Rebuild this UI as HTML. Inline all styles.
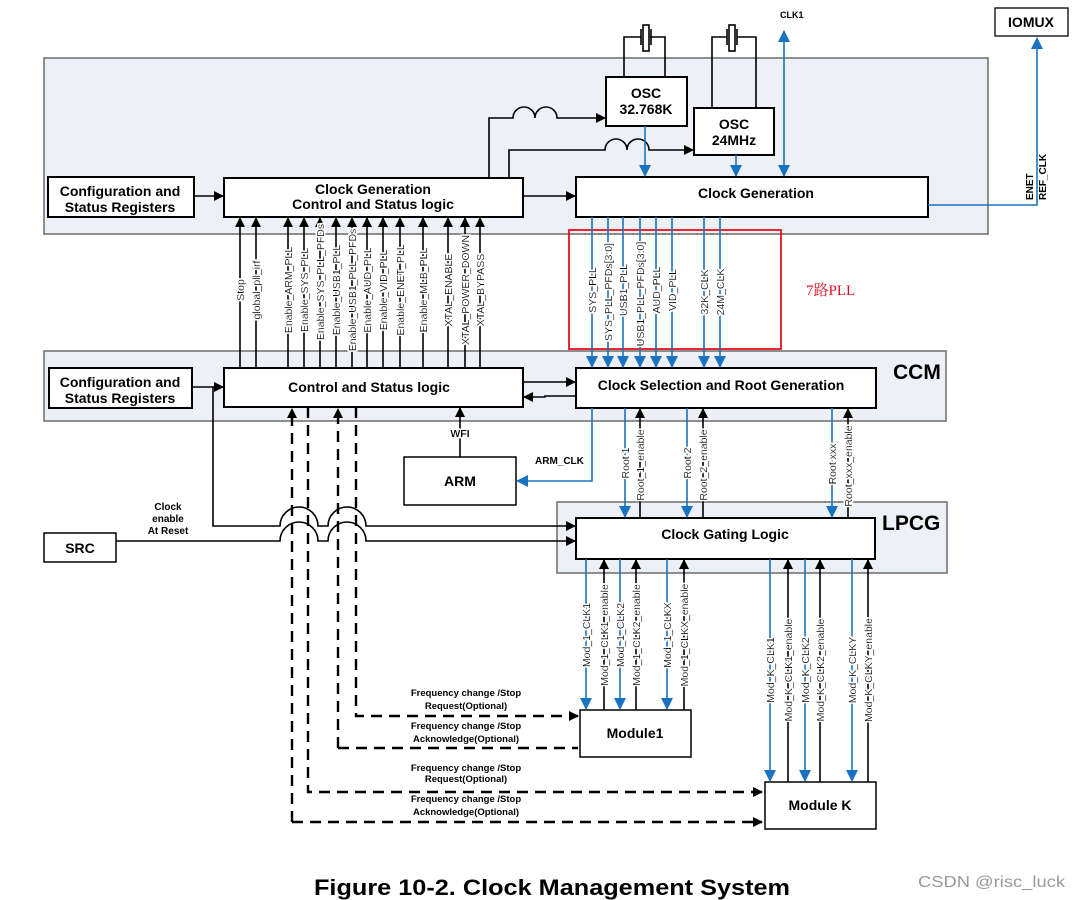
<!DOCTYPE html>
<html><head><meta charset="utf-8"><style>
html,body{margin:0;padding:0;background:#fff}
svg{display:block;font-family:"Liberation Sans",Arial,sans-serif}
.b{font-weight:bold}
.r{font-size:10.5px;filter:url(#halo)}
.rg{font-size:10.5px;filter:url(#halo)}
</style></head><body>
<svg width="1079" height="900" viewBox="0 0 1079 900" xmlns="http://www.w3.org/2000/svg">
<defs>
<filter id="halo" x="-20%" y="-20%" width="140%" height="140%">
<feMorphology in="SourceAlpha" operator="dilate" radius="1.6" result="d"/>
<feFlood flood-color="#fff"/>
<feComposite in2="d" operator="in" result="w"/>
<feMerge><feMergeNode in="w"/><feMergeNode in="SourceGraphic"/></feMerge>
</filter>
<marker id="ak" markerWidth="10" markerHeight="10" refX="9" refY="5" orient="auto" markerUnits="userSpaceOnUse"><path d="M0,0 L10,5 L0,10 z" fill="#000"/></marker>
<marker id="ab" markerWidth="12" markerHeight="12" refX="11" refY="6" orient="auto" markerUnits="userSpaceOnUse"><path d="M0,0 L12,6 L0,12 z" fill="#1a73c0"/></marker>
<marker id="abs" markerWidth="12" markerHeight="12" refX="1" refY="6" orient="auto" markerUnits="userSpaceOnUse"><path d="M12,0 L0,6 L12,12 z" fill="#1a73c0"/></marker>
</defs>

<rect x="44" y="58" width="944" height="176" fill="#edf0f6" stroke="#6b6b6b" stroke-width="1.5"/>
<rect x="44" y="351" width="902" height="70" fill="#edf0f6" stroke="#6b6b6b" stroke-width="1.5"/>
<rect x="557" y="502" width="390" height="71" fill="#edf0f6" stroke="#6b6b6b" stroke-width="1.5"/>
<text x="893" y="379" class="b" font-size="21">CCM</text>
<text x="882" y="530" class="b" font-size="21">LPCG</text>

<rect x="569" y="230" width="212" height="119" fill="none" stroke="#e8101c" stroke-width="1.8"/>
<text x="806" y="295" fill="#e8101c" font-size="15" font-family="'Liberation Serif','Noto Serif CJK SC',serif">7路PLL</text>

<g stroke="#000" stroke-width="2" fill="#fff">
<rect x="48" y="177" width="146" height="40"/>
<rect x="224" y="178" width="299" height="39"/>
<rect x="576" y="177" width="352" height="40"/>
<rect x="606" y="77" width="81" height="49"/>
<rect x="694" y="108" width="80" height="47"/>
<rect x="995" y="8" width="73" height="28" stroke-width="1.3"/>
<rect x="49" y="368" width="143" height="40"/>
<rect x="224" y="368" width="299" height="39"/>
<rect x="576" y="368" width="300" height="40"/>
<rect x="404" y="457" width="112" height="48" stroke-width="1.5"/>
<rect x="576" y="518" width="299" height="41"/>
<rect x="44" y="533" width="72" height="29" stroke-width="1.5"/>
<rect x="580" y="710" width="111" height="47" stroke-width="1.5"/>
<rect x="765" y="782" width="111" height="47" stroke-width="1.5"/>
</g>

<g text-anchor="middle" class="b" font-size="14">
<text x="120" y="196">Configuration and</text><text x="120" y="212">Status Registers</text>
<text x="373" y="194">Clock Generation</text><text x="373" y="209">Control and Status logic</text>
<text x="756" y="198">Clock Generation</text>
<text x="646" y="98">OSC</text><text x="646" y="114">32.768K</text>
<text x="734" y="129">OSC</text><text x="734" y="145">24MHz</text>
<text x="1031" y="27">IOMUX</text>
<text x="120" y="387">Configuration and</text><text x="120" y="403">Status Registers</text>
<text x="369" y="392">Control and Status logic</text>
<text x="721" y="390">Clock Selection and Root Generation</text>
<text x="460" y="486">ARM</text>
<text x="725" y="539">Clock Gating Logic</text>
<text x="80" y="553">SRC</text>
<text x="635" y="738">Module1</text>
<text x="820" y="810">Module K</text>
</g>

<g stroke="#000" stroke-width="1.6" fill="none">
<path d="M624,77 V37 H641 M665,77 V37 H650"/>
<rect x="643" y="25" width="6" height="26" fill="#fff"/>
<path d="M641,29 V45 M651,29 V45"/>
<path d="M712,108 V37 H727 M756,108 V37 H737"/>
<rect x="729" y="25" width="6" height="26" fill="#fff"/>
<path d="M727,29 V45 M737,29 V45"/>
</g>
<text x="780" y="18" class="b" font-size="9">CLK1</text>

<g stroke="#000" stroke-width="1.6" fill="none">
<path d="M489,178 V118 H513 a11,11 0 0 1 22,0 a11,11 0 0 1 22,0 H605" marker-end="url(#ak)"/>
<path d="M509,178 V150 H605 a11,11 0 0 1 22,0 a11,11 0 0 1 22,0 H693" marker-end="url(#ak)"/>
<path d="M194,196 H223" marker-end="url(#ak)"/>
<path d="M523,196 H575" marker-end="url(#ak)"/>
<path d="M192,387 H223" marker-end="url(#ak)"/>
<path d="M523,382 H575" marker-end="url(#ak)"/>
<path d="M576,396 H545 V397 H524" marker-end="url(#ak)"/>
<path d="M213,387 V526 H280 a19,19 0 0 1 38,0 H328 a19,19 0 0 1 38,0 H575" marker-end="url(#ak)"/>
<path d="M116,541 H280 a19,19 0 0 1 38,0 H328 a19,19 0 0 1 38,0 H575" marker-end="url(#ak)"/>
<path d="M460,457 V408" marker-end="url(#ak)"/>
</g>
<text x="460" y="437" class="b rg" text-anchor="middle" font-size="10">WFI</text>
<g class="b" font-size="10" text-anchor="middle"><text x="168" y="510">Clock</text><text x="168" y="522">enable</text><text x="168" y="534">At Reset</text></g>

<g stroke="#1a73c0" stroke-width="1.6" fill="none">
<path d="M645,126 V176" marker-end="url(#ab)"/>
<path d="M736,155 V176" marker-end="url(#ab)"/>
<path d="M784,31 V176" marker-end="url(#ab)" marker-start="url(#abs)"/>
<path d="M928,205 H1037 V38" marker-end="url(#ab)"/>
</g>
<g class="b" font-size="10"><text transform="translate(1033,200) rotate(-90)">ENET</text><text transform="translate(1046,200) rotate(-90)">REF_CLK</text></g>

<g stroke="#000" stroke-width="1.6">
<path d="M240,368 V218" marker-end="url(#ak)"/><path d="M256,368 V218" marker-end="url(#ak)"/>
<path d="M288,368 V218" marker-end="url(#ak)"/><path d="M304,368 V218" marker-end="url(#ak)"/>
<path d="M320,368 V218" marker-end="url(#ak)"/><path d="M336,368 V218" marker-end="url(#ak)"/>
<path d="M352,368 V218" marker-end="url(#ak)"/><path d="M367,368 V218" marker-end="url(#ak)"/>
<path d="M383,368 V218" marker-end="url(#ak)"/><path d="M400,368 V218" marker-end="url(#ak)"/>
<path d="M423,368 V218" marker-end="url(#ak)"/><path d="M448,368 V218" marker-end="url(#ak)"/>
<path d="M465,368 V218" marker-end="url(#ak)"/><path d="M480,368 V218" marker-end="url(#ak)"/>
</g>
<g class="r" text-anchor="middle">
<text transform="translate(244,290) rotate(-90)">Stop</text>
<text transform="translate(260,290) rotate(-90)">global_pll_irf</text>
<text transform="translate(292,290) rotate(-90)">Enable_ARM_PLL</text>
<text transform="translate(308,290) rotate(-90)">Enable_SYS_PLL</text>
<text transform="translate(324,282) rotate(-90)">Enable_SYS_PLL_PFDs</text>
<text transform="translate(340,290) rotate(-90)">Enable_USB1_PLL</text>
<text transform="translate(356,290) rotate(-90)">Enable_USB1_PLL_PFDs</text>
<text transform="translate(371,290) rotate(-90)">Enable_AUD_PLL</text>
<text transform="translate(387,290) rotate(-90)">Enable_VID_PLL</text>
<text transform="translate(404,290) rotate(-90)">Enable_ENET_PLL</text>
<text transform="translate(427,290) rotate(-90)">Enable_MLB_PLL</text>
<text transform="translate(452,290) rotate(-90)">XTAL_ENABLE</text>
<text transform="translate(469,290) rotate(-90)">XTAL_POWER_DOWN</text>
<text transform="translate(484,290) rotate(-90)">XTAL_BYPASS</text>
</g>

<g stroke="#1a73c0" stroke-width="1.6">
<path d="M592,217 V367" marker-end="url(#ab)"/><path d="M608,217 V367" marker-end="url(#ab)"/>
<path d="M623,217 V367" marker-end="url(#ab)"/><path d="M640,217 V367" marker-end="url(#ab)"/>
<path d="M656,217 V367" marker-end="url(#ab)"/><path d="M672,217 V367" marker-end="url(#ab)"/>
<path d="M704,217 V367" marker-end="url(#ab)"/><path d="M720,217 V367" marker-end="url(#ab)"/>
</g>
<g class="r" text-anchor="middle">
<text transform="translate(596,290) rotate(-90)">SYS_PLL</text>
<text transform="translate(612,292) rotate(-90)">SYS_PLL_PFDs[3:0]</text>
<text transform="translate(627,290) rotate(-90)">USB1_PLL</text>
<text transform="translate(644,294) rotate(-90)">USB1_PLL_PFDs[3:0]</text>
<text transform="translate(660,290) rotate(-90)">AUD_PLL</text>
<text transform="translate(676,290) rotate(-90)">VID_PLL</text>
<text transform="translate(708,292) rotate(-90)">32K_CLK</text>
<text transform="translate(724,292) rotate(-90)">24M_CLK</text>
</g>

<g stroke="#1a73c0" stroke-width="1.6" fill="none">
<path d="M592,408 V481 H517" marker-end="url(#ab)"/>
<path d="M625,408 V517" marker-end="url(#ab)"/>
<path d="M687,408 V517" marker-end="url(#ab)"/>
<path d="M832,408 V517" marker-end="url(#ab)"/>
</g>
<g stroke="#000" stroke-width="1.6">
<path d="M640,518 V409" marker-end="url(#ak)"/>
<path d="M703,518 V409" marker-end="url(#ak)"/>
<path d="M848,518 V409" marker-end="url(#ak)"/>
</g>
<text x="535" y="464" class="b" font-size="10">ARM_CLK</text>
<g class="r" text-anchor="middle">
<text transform="translate(629,463) rotate(-90)">Root 1</text>
<text transform="translate(644,465) rotate(-90)">Root_1_enable</text>
<text transform="translate(691,463) rotate(-90)">Root 2</text>
<text transform="translate(707,465) rotate(-90)">Root_2_enable</text>
<text transform="translate(836,464) rotate(-90)">Root xxx</text>
<text transform="translate(852,466) rotate(-90)">Root_xxx_enable</text>
</g>

<g stroke="#1a73c0" stroke-width="1.6">
<path d="M586,559 V709" marker-end="url(#ab)"/><path d="M620,559 V709" marker-end="url(#ab)"/>
<path d="M667,559 V709" marker-end="url(#ab)"/>
<path d="M770,559 V781" marker-end="url(#ab)"/><path d="M805,559 V781" marker-end="url(#ab)"/>
<path d="M852,559 V781" marker-end="url(#ab)"/>
</g>
<g stroke="#000" stroke-width="1.6">
<path d="M604,710 V560" marker-end="url(#ak)"/><path d="M636,710 V560" marker-end="url(#ak)"/>
<path d="M684,710 V560" marker-end="url(#ak)"/>
<path d="M788,782 V560" marker-end="url(#ak)"/><path d="M820,782 V560" marker-end="url(#ak)"/>
<path d="M868,782 V560" marker-end="url(#ak)"/>
</g>
<g class="r" text-anchor="middle">
<text transform="translate(590,635) rotate(-90)">Mod_1_CLK1</text>
<text transform="translate(608,635) rotate(-90)">Mod_1_CLK1_enable</text>
<text transform="translate(624,635) rotate(-90)">Mod_1_CLK2</text>
<text transform="translate(640,635) rotate(-90)">Mod_1_CLK2_enable</text>
<text transform="translate(671,635) rotate(-90)">Mod_1_CLKX</text>
<text transform="translate(688,635) rotate(-90)">Mod_1_CLKX_enable</text>
<text transform="translate(774,670) rotate(-90)">Mod_K_CLK1</text>
<text transform="translate(792,670) rotate(-90)">Mod_K_CLK1_enable</text>
<text transform="translate(809,670) rotate(-90)">Mod_K_CLK2</text>
<text transform="translate(824,670) rotate(-90)">Mod_K_CLK2_enable</text>
<text transform="translate(856,670) rotate(-90)">Mod_K_CLKY</text>
<text transform="translate(872,670) rotate(-90)">Mod_K_CLKY_enable</text>
</g>

<g stroke="#000" stroke-width="2.4" fill="none" stroke-dasharray="11,7">
<path d="M292,822 V409" marker-end="url(#ak)"/>
<path d="M292,822 H762" marker-end="url(#ak)"/>
<path d="M308,407 V792 H762" marker-end="url(#ak)"/>
<path d="M338,748 V409" marker-end="url(#ak)"/>
<path d="M338,748 H578"/>
<path d="M356,407 V716 H578" marker-end="url(#ak)"/>
</g>
<g class="b" font-size="9.5" text-anchor="middle">
<text x="466" y="696">Frequency change /Stop</text><text x="466" y="709">Request(Optional)</text>
<text x="466" y="729">Frequency change /Stop</text><text x="466" y="742">Acknowledge(Optional)</text>
<text x="466" y="771">Frequency change /Stop</text><text x="466" y="782">Request(Optional)</text>
<text x="466" y="802">Frequency change /Stop</text><text x="466" y="815">Acknowledge(Optional)</text>
</g>

<text x="314" y="895" class="b" font-size="22" textLength="476" lengthAdjust="spacingAndGlyphs">Figure 10-2. Clock Management System</text>
<text x="918" y="887" font-size="16" fill="#999" textLength="147" lengthAdjust="spacingAndGlyphs">CSDN @risc_luck</text>
</svg>
</body></html>
